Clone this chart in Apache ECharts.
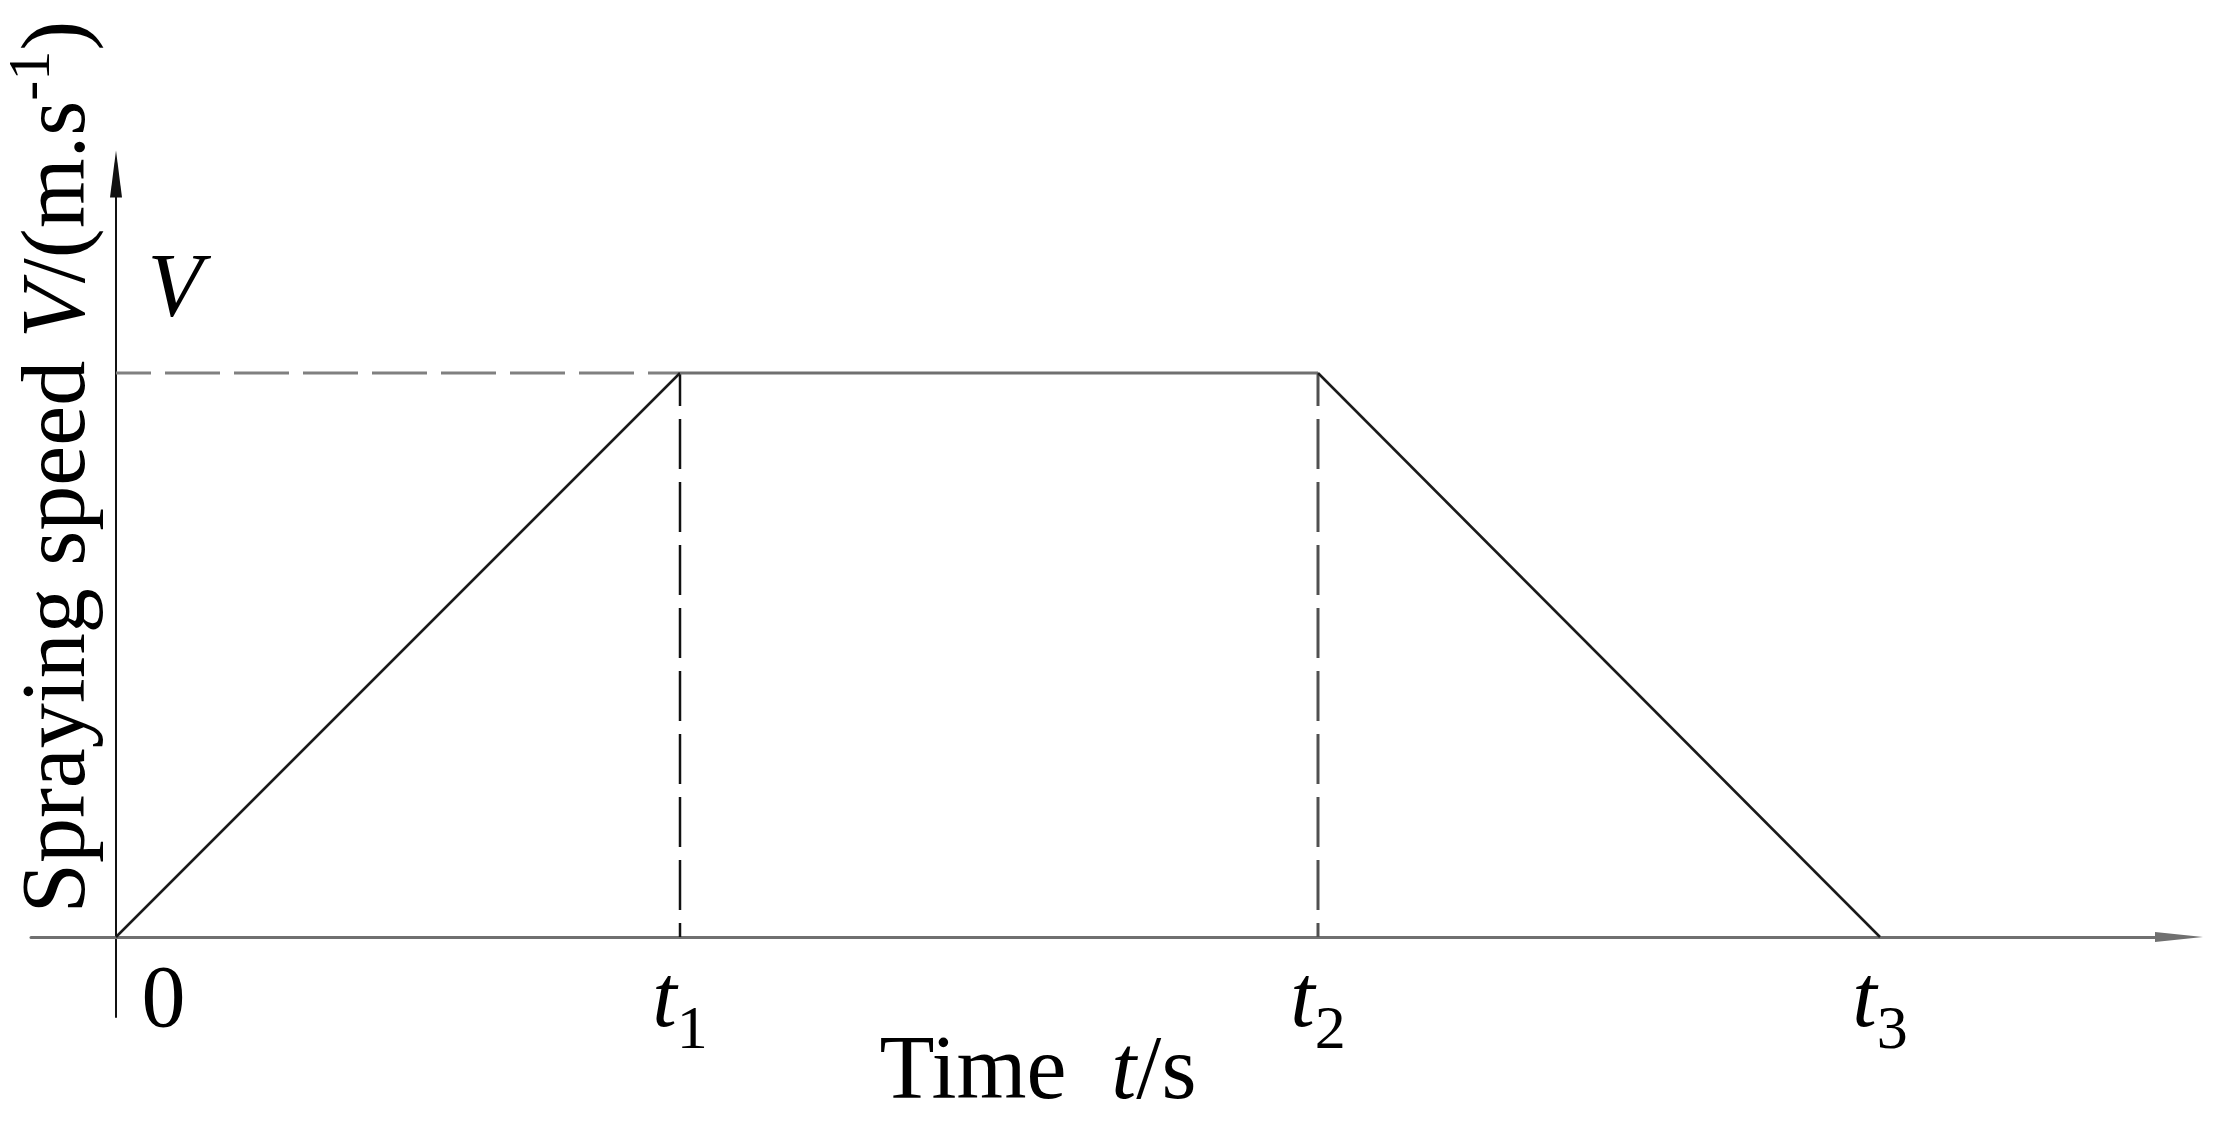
<!DOCTYPE html>
<html><head><meta charset="utf-8">
<script src="https://cdn.jsdelivr.net/npm/echarts@6/dist/echarts.min.js"></script>
<style>html,body{margin:0;padding:0;background:#fff}#c{width:2218px;height:1124px}</style>
</head><body><div id="c"></div>
<script>
// Trapezoidal speed profile (arbitrary units)
const profileTime = [0, 5.64, 12.02, 17.64];      // 0, t1, t2, t3
const profileSpeed = [0, 5.64, 5.64, 0];           // 0, V, V, 0
const timeTickValues = [0, 5.64, 12.02, 17.64];
const timeTickLabels = ['0', 't1', 't2', 't3'];
const speedTickValues = [5.64];
const speedTickLabels = ['V'];
const xRange = [-0.85, 20.63];
const yRange = [-0.80, 7.63];

const FONT = 'Liberation Serif';
const pt = i => [profileTime[i], profileSpeed[i]];

function timeLabel(v) {
  const k = timeTickValues.findIndex(x => Math.abs(x - v) < 1e-6);
  if (k < 0) return '';
  const s = timeTickLabels[k];
  if (s[0] === 't') return '{i|t}{s|' + s.slice(1) + '}';
  return '{z|' + s + '}';
}

const chart = echarts.init(document.getElementById('c'), null, {renderer: 'canvas'});
chart.setOption({
  animation: false,
  backgroundColor: '#fff',
  grid: {left: 31, right: 39, top: 174, bottom: 107, containLabel: false, outerBoundsMode: 'none'},
  xAxis: {
    type: 'value', min: xRange[0], max: xRange[1],
    splitLine: {show: false},
    axisTick: {show: false},
    axisLine: {onZero: true, lineStyle: {color: '#707070', width: 3},
      symbol: ['none', 'triangle'], symbolSize: [10, 48]},
    axisLabel: {
      customValues: timeTickValues, margin: -80, formatter: timeLabel,
      color: '#000', fontFamily: FONT,
      rich: {
        z: {fontFamily: FONT, fontSize: 88, color: '#000', lineHeight: 132, padding: [0, 0, 0, 95]},
        i: {fontFamily: FONT, fontSize: 88, fontStyle: 'italic', color: '#000', lineHeight: 132},
        s: {fontFamily: FONT, fontSize: 62, color: '#000', lineHeight: 62, padding: [58, 0, 0, 0]}
      }
    }
  },
  yAxis: {
    type: 'value', min: yRange[0], max: yRange[1],
    splitLine: {show: false},
    axisTick: {show: false},
    axisLabel: {show: false},
    axisLine: {onZero: true, lineStyle: {color: '#111', width: 2},
      symbol: ['none', 'triangle'], symbolSize: [12, 47]}
  },
  series: [
    {name: 'rise', type: 'line', data: [pt(0), pt(1)], symbol: 'none', silent: true,
      lineStyle: {color: '#1a1a1a', width: 2.5}, z: 5},
    {name: 'plateau', type: 'line', data: [pt(1), pt(2)], symbol: 'none', silent: true,
      lineStyle: {color: '#707070', width: 3}, z: 5},
    {name: 'fall', type: 'line', data: [pt(2), pt(3)], symbol: 'none', silent: true,
      lineStyle: {color: '#1a1a1a', width: 2.5}, z: 5},
    {name: 'guideV', type: 'line', data: [[0, speedTickValues[0]], pt(1)], symbol: 'none', silent: true,
      lineStyle: {color: '#808080', width: 3, type: [55, 14], dashOffset: 20}, z: 3,
      markPoint: {
        silent: true, symbol: 'circle', symbolSize: 1, itemStyle: {color: 'rgba(0,0,0,0)'},
        label: {show: true, position: 'inside', offset: [59, -81],
          fontFamily: FONT, fontSize: 90, fontStyle: 'italic', color: '#000',
          formatter: p => speedTickLabels[0]},
        data: [{coord: [0, speedTickValues[0]]}]
      }},
    {name: 'guideT1', type: 'line', data: [pt(1), [profileTime[1], 0]], symbol: 'none', silent: true,
      lineStyle: {color: '#111', width: 2.5, type: [50, 13], dashOffset: 17}, z: 3},
    {name: 'guideT2', type: 'line', data: [pt(2), [profileTime[2], 0]], symbol: 'none', silent: true,
      lineStyle: {color: '#505050', width: 3, type: [50, 13], dashOffset: 17}, z: 3}
  ],
  graphic: [
    {type: 'text', x: 60, y: 467, rotation: Math.PI / 2, silent: true,
      style: {
        text: '{n|Spraying speed }{i|V}{n|/(m.s}{p|-1}{n|)}',
        align: 'center', verticalAlign: 'middle',
        rich: {
          n: {fontFamily: FONT, fontSize: 90, fill: '#000'},
          i: {fontFamily: FONT, fontSize: 90, fontStyle: 'italic', fill: '#000'},
          p: {fontFamily: FONT, fontSize: 60, fill: '#000', padding: [0, 0, 54, 0]}
        }
      }},
    {type: 'text', x: 1038, y: 1074, silent: true,
      style: {
        text: '{n|Time  }{i|t}{n|/s}',
        align: 'center', verticalAlign: 'middle',
        rich: {
          n: {fontFamily: FONT, fontSize: 90, fill: '#000'},
          i: {fontFamily: FONT, fontSize: 90, fontStyle: 'italic', fill: '#000'}
        }
      }}
  ]
});
</script>
</body></html>
